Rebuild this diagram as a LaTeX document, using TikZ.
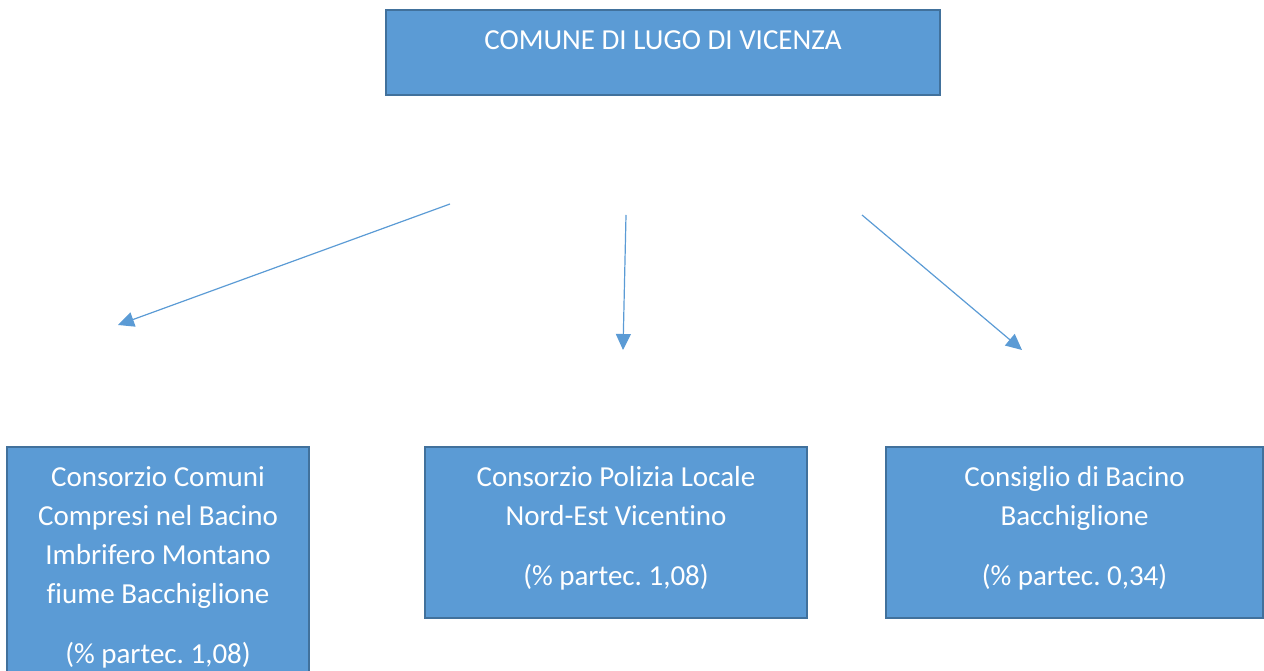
\documentclass[tikz,border=0pt]{standalone}
\usepackage{fontspec}
\setmainfont{Carlito}[Ligatures=NoCommon]
\usetikzlibrary{arrows.meta}
\definecolor{boxblue}{HTML}{5B9BD5}
\definecolor{boxedge}{HTML}{41719C}
\frenchspacing

\begin{document}
\begin{tikzpicture}[x=1pt,y=1pt,
    entebox/.style={draw=boxedge, line width=1.5pt, fill=boxblue, inner sep=0pt},
    entetext/.style={text=white, align=center, font=\fontsize{29pt}{39pt}\selectfont, inner sep=0pt, anchor=north},
    freccia/.style={draw=boxblue, line width=1.2pt, -{Triangle[length=16pt,width=15pt]}}]
  \useasboundingbox (0,0) rectangle (1264,671);
  \clip (0,0) rectangle (1264,671);

  % Draw the boxes
  \node[entebox, minimum width=554pt, minimum height=85pt] (comune) at (663,618.5) {};
  \node[entebox, minimum width=302pt, minimum height=243pt] (bim) at (158,102.5) {};
  \node[entebox, minimum width=382pt, minimum height=171pt] (polizia) at (616,138.5) {};
  \node[entebox, minimum width=377pt, minimum height=171pt] (bacino) at (1074.5,138.5) {};

  % Texts in the boxes
  \node[entetext] (tcomune) at ([yshift=-21pt]comune.north) {COMUNE DI LUGO DI VICENZA};
  \node[entetext] (tbim) at ([yshift=-20pt]bim.north) {Consorzio Comuni\\Compresi nel Bacino\\Imbrifero Montano\\fiume Bacchiglione\\[21pt](\% partec. 1,08)};
  \node[entetext] (tpolizia) at ([yshift=-20pt]polizia.north) {Consorzio Polizia Locale\\Nord-Est Vicentino\\[21pt](\% partec. 1,08)};
  \node[entetext] (tbacino) at ([yshift=-20pt]bacino.north) {Consiglio di Bacino\\Bacchiglione\\[21pt](\% partec. 0,34)};

  % Free arrows
  \coordinate (da) at (450,467);
  \coordinate (aa) at (118,346);
  \coordinate (db) at (626,456);
  \coordinate (ab) at (623,321);
  \coordinate (dc) at (862,456);
  \coordinate (ac) at (1022,321);
  \draw[freccia] (da) -- (aa);
  \draw[freccia] (db) -- (ab);
  \draw[freccia] (dc) -- (ac);
\end{tikzpicture}
\end{document}
